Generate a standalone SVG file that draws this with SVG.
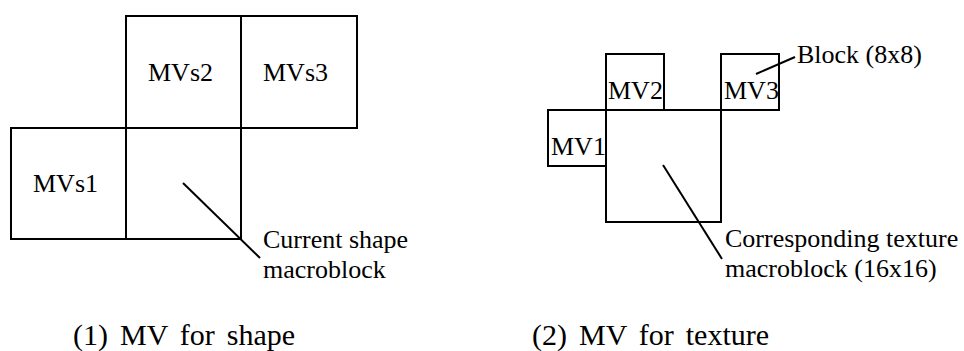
<svg xmlns="http://www.w3.org/2000/svg" width="964" height="351" viewBox="0 0 964 351">
<style>
.box{fill:none;stroke:#000;stroke-width:2}
.ln{stroke:#000;stroke-width:2;fill:none}
.t{font-family:'Liberation Serif','Times New Roman','DejaVu Serif',serif;font-size:26px;fill:#000}
.cap{font-size:30px;word-spacing:4.5px}
</style>
<rect width="964" height="351" fill="#fff"/>
<g id="mvs2"><rect class="box" x="126" y="16" width="115" height="112"/><text class="t" x="148" y="81">MVs2</text></g>
<g id="mvs3"><rect class="box" x="241" y="16" width="116" height="112"/><text class="t" x="263" y="81">MVs3</text></g>
<g id="mvs1"><rect class="box" x="11" y="128" width="115" height="111"/><text class="t" x="33" y="192">MVs1</text></g>
<g id="current"><rect class="box" x="126" y="128" width="115" height="111"/></g>
<g id="mv2"><rect class="box" x="606" y="54" width="58" height="56"/><text class="t" x="608" y="99">MV2</text></g>
<g id="mv3"><rect class="box" x="721" y="54" width="58" height="56"/><text class="t" x="724" y="99">MV3</text></g>
<g id="mv1"><rect class="box" x="548" y="110" width="58" height="56"/><text class="t" x="551" y="155">MV1</text></g>
<g id="texture"><rect class="box" x="606" y="110" width="115" height="112"/></g>
<g id="connectors">
<line class="ln" x1="183" y1="183" x2="260" y2="258"/>
<line class="ln" x1="663" y1="165" x2="722" y2="259"/>
<line class="ln" x1="756" y1="74" x2="795" y2="57"/>
</g>
<g id="labels">
<text class="t" x="263" y="248">Current shape</text>
<text class="t" x="263" y="278">macroblock</text>
<text class="t" x="725" y="247">Corresponding texture</text>
<text class="t" x="725" y="277">macroblock (16x16)</text>
<text class="t" x="797" y="63">Block (8x8)</text>
<text class="t cap" x="73" y="345">(1) MV for shape</text>
<text class="t cap" x="532" y="345">(2) MV for texture</text>
</g>
</svg>
